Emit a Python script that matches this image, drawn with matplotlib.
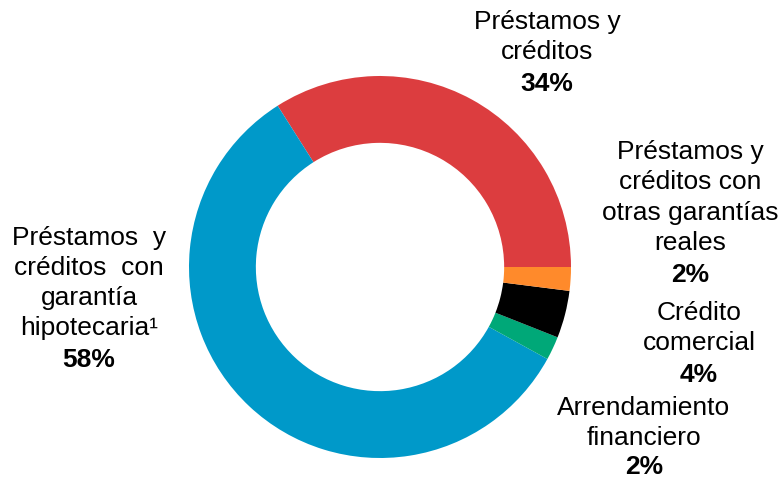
import matplotlib.pyplot as plt

# Loan portfolio composition (share of total, %), counter-clockwise from 3 o'clock
categories = [
    "Préstamos y créditos",
    "Préstamos y créditos con garantía hipotecaria",
    "Arrendamiento financiero",
    "Crédito comercial",
    "Préstamos y créditos con otras garantías reales",
]
shares = [34, 58, 2, 4, 2]
colors = ["#DC3D3F", "#0099C9", "#00A878", "#000000", "#FF8A2B"]

plt.rcParams["font.family"] = ["Liberation Sans", "DejaVu Sans"]

W, H = 781, 480
fig = plt.figure(figsize=(W / 100, H / 100), dpi=100)
ax = fig.add_axes([0, 0, 1, 1])

cx, cy, R = 380, H - 267, 191
ax.pie(shares, colors=colors, startangle=0, counterclock=True,
       center=(cx, cy), radius=R,
       wedgeprops=dict(width=R * 0.35, linewidth=0))

ax.set_xlim(0, W)
ax.set_ylim(0, H)
ax.set_aspect("equal")
ax.axis("off")

FS = 19


def label(x, ys, lines, pct, gap=32):
    for y, line in zip(ys, lines):
        ax.text(x, H - y, line, ha="center", va="center", fontsize=FS)
    ax.text(x, H - ys[-1] - gap, pct, ha="center", va="center",
            fontsize=FS, fontweight="bold")


label(547, [22, 52], ["Préstamos y", "créditos"], f"{shares[0]}%")
label(690, [152, 182, 213, 243],
      ["Préstamos y", "créditos con", "otras garantías", "reales"], f"{shares[4]}%")
label(699, [313, 343], ["Crédito", "comercial"], f"{shares[3]}%")
label(644, [408, 438], ["Arrendamiento", "financiero"], f"{shares[2]}%", gap=29)
label(89, [238, 268, 298, 328],
      ["Préstamos  y", "créditos  con", "garantía", "hipotecaria¹"], f"{shares[1]}%")

fig.savefig("out.png", dpi=100)
